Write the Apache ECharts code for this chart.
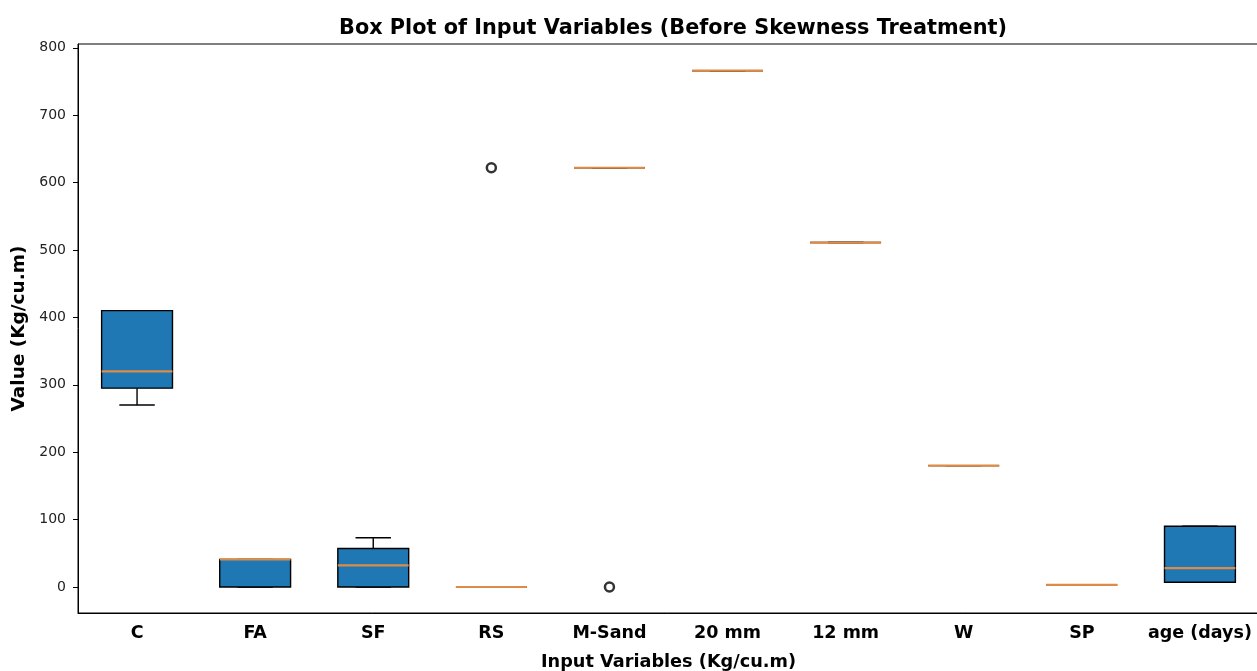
<!DOCTYPE html>
<html>
<head>
<meta charset="utf-8">
<script src="https://cdn.jsdelivr.net/npm/echarts@6/dist/echarts.min.js"></script>
<style>
  html, body { margin: 0; padding: 0; background: #fff; }
  #chart { width: 1257px; height: 671px; }
</style>
</head>
<body>
<div id="chart"></div>
<script>
// Input variables of the concrete mix and their five-number summaries
const categories = ['C', 'FA', 'SF', 'RS', 'M-Sand', '20 mm', '12 mm', 'W', 'SP', 'age (days)'];
const whiskerLow  = [270, 0, 0, 0, 622, 766, 511, 180, 3, 7];
const q1Values    = [295, 0, 0, 0, 622, 766, 511, 180, 3, 7];
const medians     = [320, 41, 32, 0, 622, 766, 511, 180, 3, 28];
const q3Values    = [410, 41, 57, 0, 622, 766, 511, 180, 3, 90];
const whiskerHigh = [410, 41, 73, 0, 622, 766, 511, 180, 3, 90];
// Outlier points: [category index, value]
const outliers = [[3, 622], [4, 0]];
const yTicks = [0, 100, 200, 300, 400, 500, 600, 700, 800];

const boxData = categories.map((_, i) => [i, whiskerLow[i], q1Values[i], medians[i], q3Values[i], whiskerHigh[i]]);

const chart = echarts.init(document.getElementById('chart'), null, { renderer: 'canvas' });

function renderBox(params, api) {
  const i = api.value(0);
  const band = api.size([1, 0])[0];
  const half = band * 0.3;
  const cap = band * 0.15;
  const x = api.coord([i, 0])[0];
  const yLo = api.coord([i, api.value(1)])[1];
  const yQ1 = api.coord([i, api.value(2)])[1];
  const yMed = api.coord([i, api.value(3)])[1];
  const yQ3 = api.coord([i, api.value(4)])[1];
  const yHi = api.coord([i, api.value(5)])[1];
  const black = { stroke: '#000', lineWidth: 1.4 };
  return {
    type: 'group',
    children: [
      { type: 'line', shape: { x1: x, y1: yQ1, x2: x, y2: yLo }, style: black },
      { type: 'line', shape: { x1: x, y1: yQ3, x2: x, y2: yHi }, style: black },
      { type: 'line', shape: { x1: x - cap, y1: yLo, x2: x + cap, y2: yLo }, style: black },
      { type: 'line', shape: { x1: x - cap, y1: yHi, x2: x + cap, y2: yHi }, style: black },
      { type: 'rect', shape: { x: x - half, y: yQ3, width: half * 2, height: yQ1 - yQ3 },
        style: { fill: '#1f77b4', stroke: '#000', lineWidth: 1.4 } },
      { type: 'line', shape: { x1: x - half, y1: yMed, x2: x + half, y2: yMed },
        style: { stroke: '#dc8c48', lineWidth: 2.2 } }
    ]
  };
}

chart.setOption({
  animation: false,
  title: {
    text: 'Box Plot of Input Variables (Before Skewness Treatment)',
    left: 668, top: 13, textAlign: 'center',
    textStyle: { fontFamily: 'DejaVu Sans', fontWeight: 'bold', fontSize: 20.8, color: '#000' }
  },
  grid: {
    left: 78, right: -2, top: 44, bottom: 58,
    containLabel: false,
    outerBoundsMode: 'none',
    show: true, borderColor: '#000', borderWidth: 1, backgroundColor: 'transparent'
  },
  xAxis: {
    type: 'category',
    data: categories,
    boundaryGap: true,
    name: 'Input Variables (Kg/cu.m)',
    nameLocation: 'middle',
    nameGap: 40,
    nameTextStyle: { fontFamily: 'DejaVu Sans', fontWeight: 'bold', fontSize: 17.7, color: '#000' },
    axisLine: { onZero: false, lineStyle: { color: '#000', width: 1 } },
    axisTick: { alignWithLabel: true, length: 5, lineStyle: { color: '#000' } },
    axisLabel: { fontFamily: 'DejaVu Sans', fontWeight: 'bold', fontSize: 17.5, color: '#000', margin: 11, interval: 0 },
    splitLine: { show: false }
  },
  yAxis: {
    type: 'value',
    min: -38.6,
    max: 805.6,
    name: 'Value (Kg/cu.m)',
    nameLocation: 'middle',
    nameGap: 49,
    nameTextStyle: { fontFamily: 'DejaVu Sans', fontWeight: 'bold', fontSize: 18.5, color: '#000' },
    axisLine: { show: true, onZero: false, lineStyle: { color: '#000', width: 1 } },
    axisTick: { show: true, length: 5, customValues: yTicks, lineStyle: { color: '#000' } },
    axisLabel: { fontFamily: 'DejaVu Sans', fontSize: 14, color: '#222', margin: 12, customValues: yTicks },
    splitLine: { show: false }
  },
  series: [
    {
      type: 'custom',
      renderItem: renderBox,
      data: boxData,
      encode: { x: 0, y: [1, 2, 3, 4, 5] },
      clip: false,
      z: 2
    },
    {
      type: 'scatter',
      data: outliers,
      symbol: 'circle',
      symbolSize: 9,
      itemStyle: { color: '#fff', borderColor: '#000', borderWidth: 2.5 },
      z: 3
    }
  ]
});
</script>
</body>
</html>
